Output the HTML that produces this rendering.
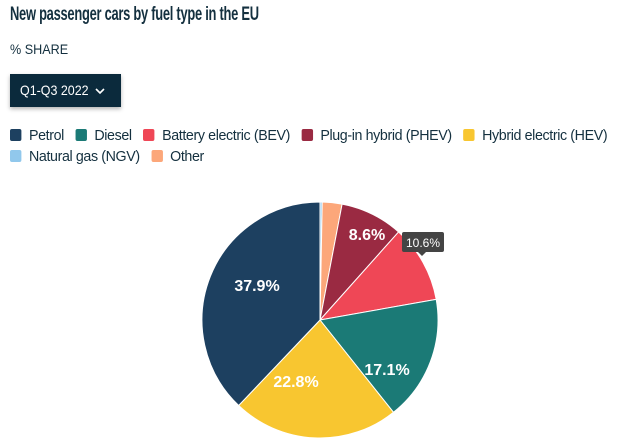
<!DOCTYPE html>
<html><head><meta charset="utf-8"><style>
body{margin:0;width:640px;height:440px;background:#fff;overflow:hidden;font-family:"Liberation Sans",sans-serif;color:#14303f;position:relative}
.t{position:absolute;left:10px;top:4px;font-size:19px;font-weight:bold;letter-spacing:-0.4px;transform:scaleX(0.68);transform-origin:0 0;white-space:nowrap}
.s{position:absolute;left:10px;top:41px;font-size:14px;transform:scaleX(0.9);transform-origin:0 0}
.b{position:absolute;left:10px;top:74px;width:111px;height:33px;background:#0b2a3c;color:#fff;box-shadow:0 2px 4px rgba(0,0,0,.3)}
.b div{position:absolute;left:10px;top:8px;font-size:14px;transform:scaleX(0.89);transform-origin:0 0;white-space:nowrap}
.b svg{position:absolute;left:85px;top:14px}
.lg{position:absolute;left:10px;font-size:15px;white-space:nowrap;letter-spacing:-0.4px;transform:scaleX(0.95);transform-origin:0 0}
.lg span{display:inline-block;width:12px;height:12px;border-radius:2px;vertical-align:-1px;margin-right:8px}
.lg i{font-style:normal;margin-right:12px}
</style></head><body>
<div class="t">New passenger cars by fuel type in the EU</div>
<div class="s">% SHARE</div>
<div class="b"><div>Q1-Q3 2022</div><svg width="10" height="7" viewBox="0 0 10 7"><path d="M1 1l4 4 4-4" stroke="#fff" stroke-width="1.6" fill="none"/></svg></div>
<div class="lg" style="top:127px"><span style="background:#1d4060"></span><i>Petrol</i><span style="background:#1b7a76"></span><i>Diesel</i><span style="background:#ef4756"></span><i>Battery electric (BEV)</i><span style="background:#9a2a42"></span><i>Plug-in hybrid (PHEV)</i><span style="background:#f8c630"></span><i>Hybrid electric (HEV)</i></div>
<div class="lg" style="top:148px"><span style="background:#91c8ec"></span><i>Natural gas (NGV)</i><span style="background:#fca77a"></span><i>Other</i></div>
<svg id="p" style="position:absolute;left:0;top:0" width="640" height="440">
<g id="sl"></g>
<g font-family="Liberation Sans,sans-serif" font-weight="bold" font-size="16" fill="#fff" text-anchor="middle">
<text x="257" y="291">37.9%</text>
<text x="296" y="387">22.8%</text>
<text x="387" y="375">17.1%</text>
<text x="367" y="240">8.6%</text>
</g>
<path d="M404 232h38a2 2 0 0 1 2 2v16a2 2 0 0 1-2 2h-16l-4 4-4-4h-14a2 2 0 0 1-2-2v-16a2 2 0 0 1 2-2z" fill="#444"/>
<text x="423" y="247" font-family="Liberation Sans,sans-serif" font-size="12" fill="#fff" text-anchor="middle">10.6%</text>
</svg>
<script>
var d=[[0.3,'#91c8ec'],[2.7,'#fca77a'],[8.6,'#9a2a42'],[10.6,'#ef4756'],[17.1,'#1b7a76'],[22.8,'#f8c630'],[37.9,'#1d4060']];
var cx=320,cy=320,r=118,a=0,h='';
d.forEach(function(s){var a0=a/100*2*Math.PI,a1=(a+s[0])/100*2*Math.PI;a+=s[0];
var x0=cx+r*Math.sin(a0),y0=cy-r*Math.cos(a0),x1=cx+r*Math.sin(a1),y1=cy-r*Math.cos(a1);
h+='<path d="M'+cx+' '+cy+'L'+x0+' '+y0+'A'+r+' '+r+' 0 '+(s[0]>50?1:0)+' 1 '+x1+' '+y1+'Z" fill="'+s[1]+'" stroke="#fff" stroke-width="1"/>';});
document.getElementById('sl').innerHTML=h;
</script>
</body></html>
